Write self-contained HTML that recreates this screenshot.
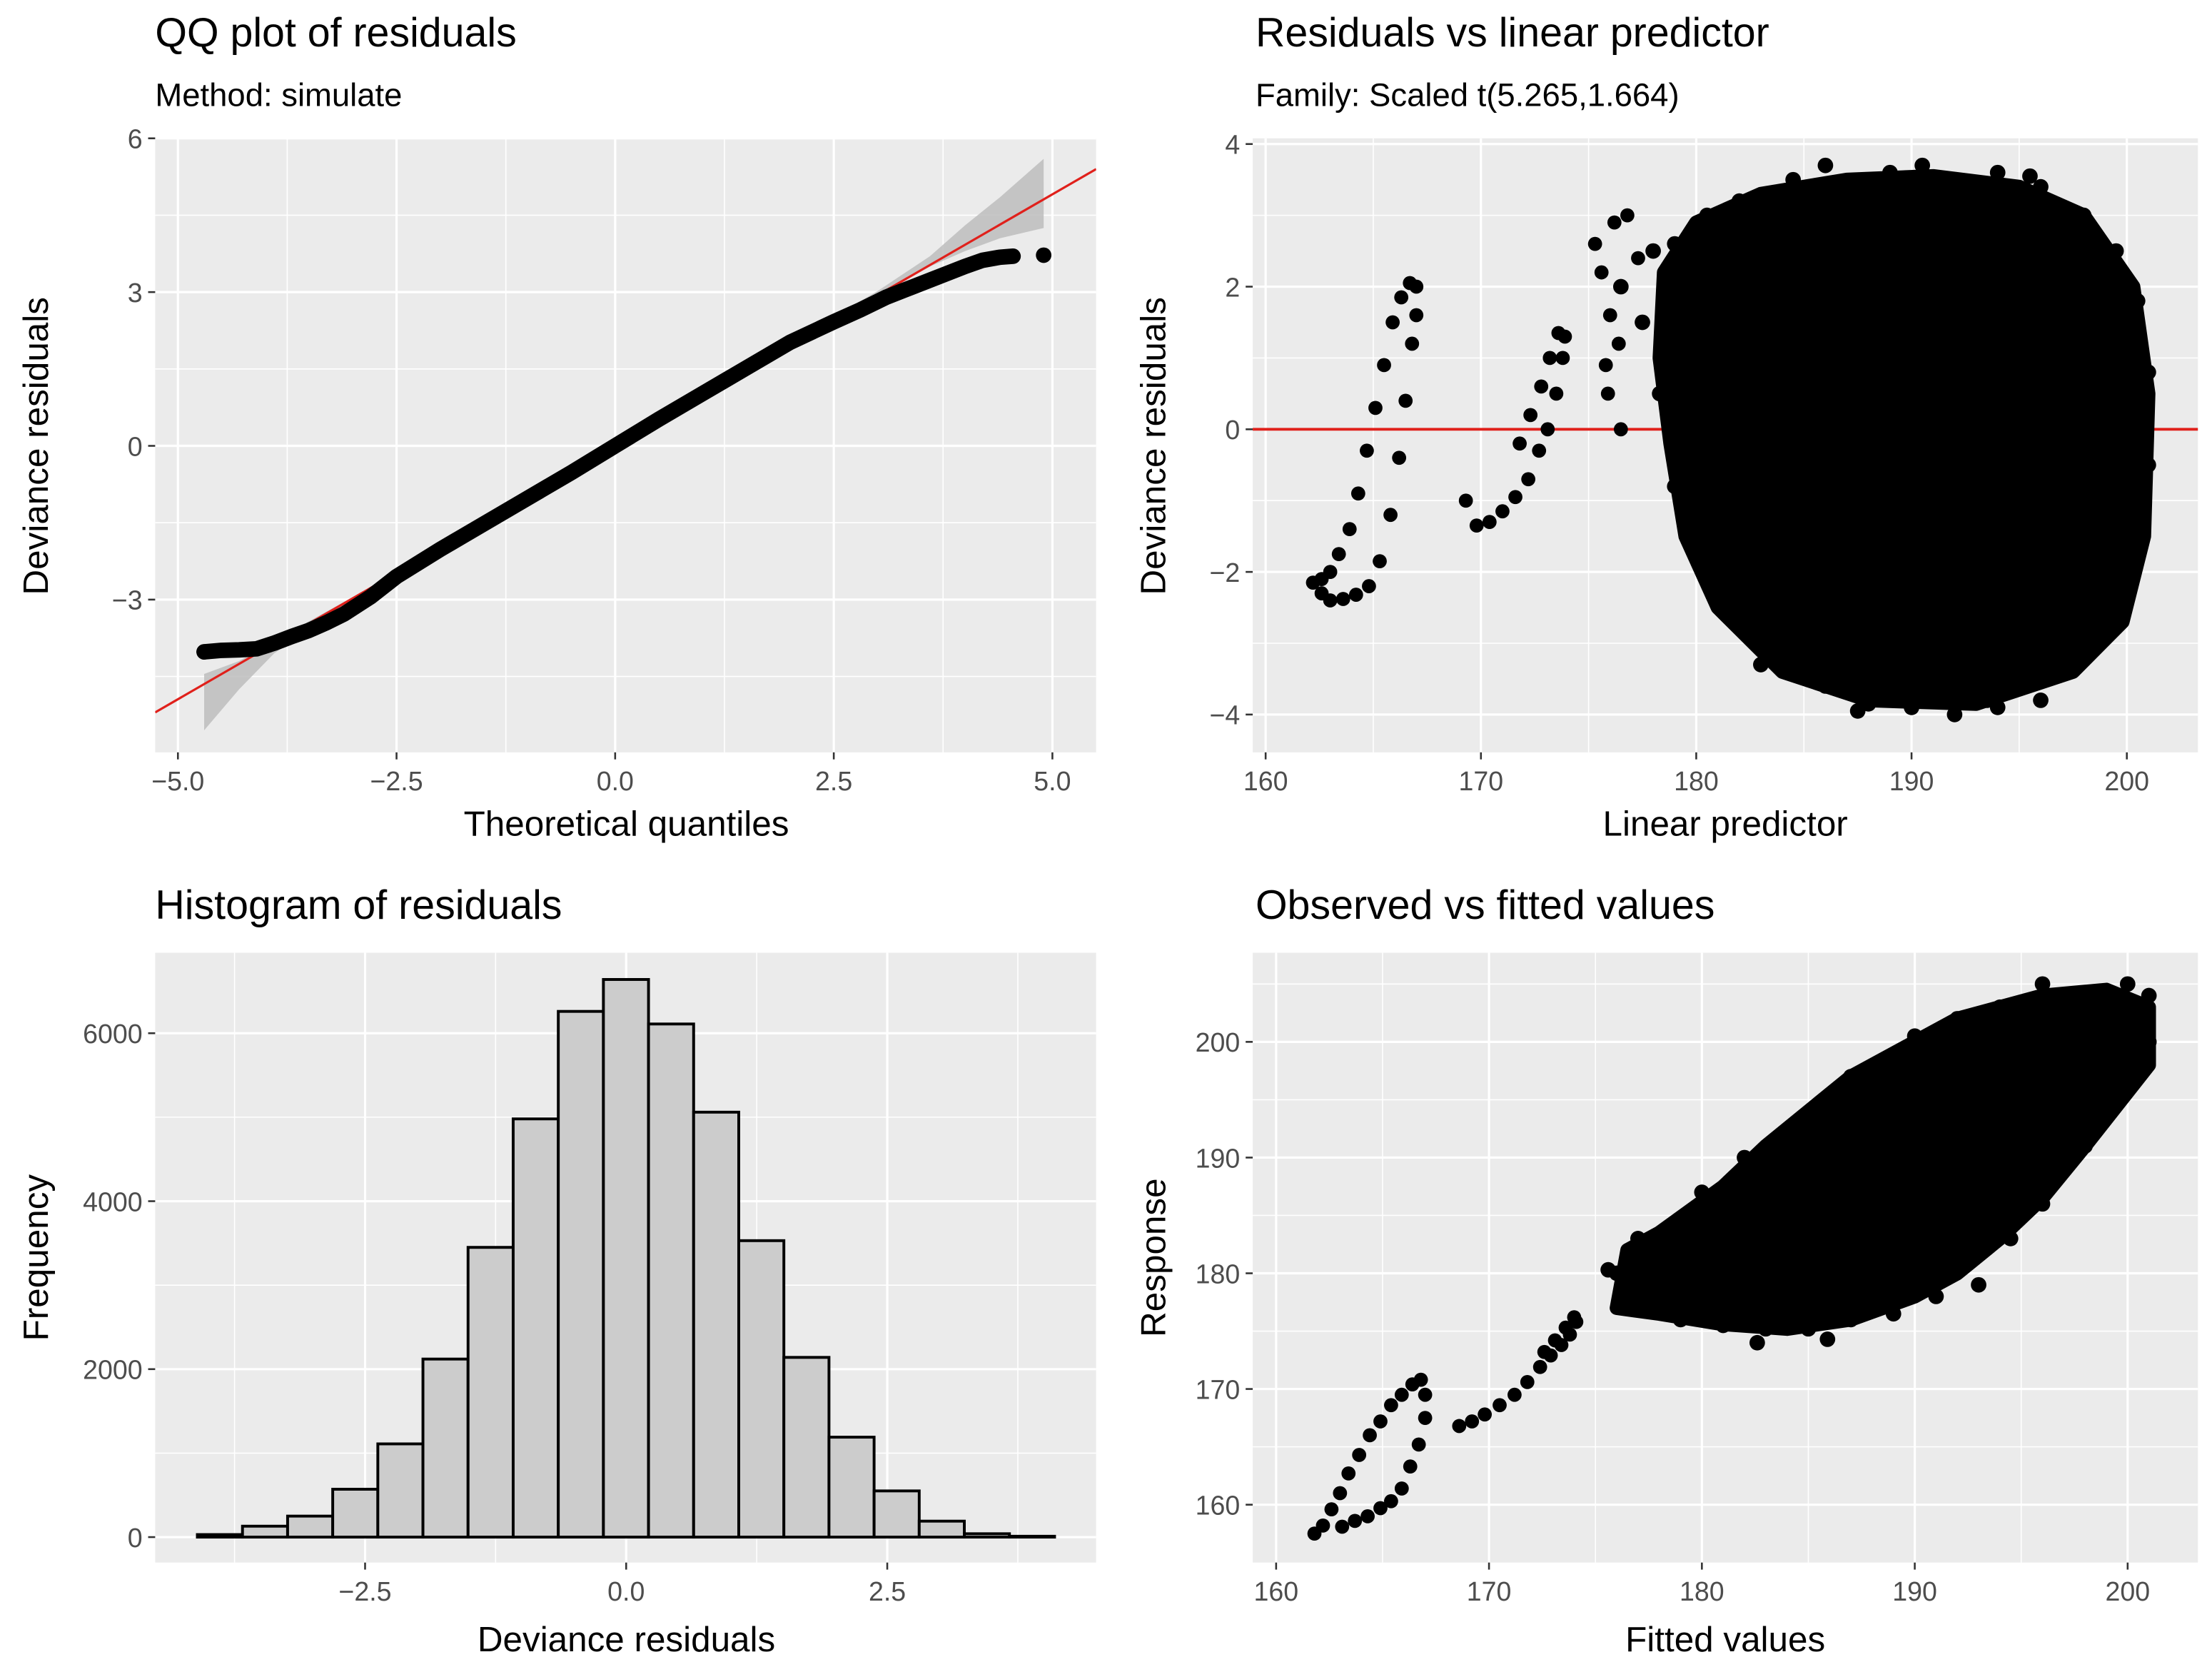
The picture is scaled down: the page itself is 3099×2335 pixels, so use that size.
<!DOCTYPE html>
<html><head><meta charset="utf-8"><style>
html,body{margin:0;padding:0;background:#fff;}
svg{display:block;}
text{font-family:"Liberation Sans",sans-serif;}
.tk{fill:#4d4d4d;font-size:19px;}
.ttl{fill:#000;font-size:29px;}
.sub{fill:#000;font-size:23px;}
.ax{fill:#000;font-size:25px;}
</style></head><body>
<svg id="fig" width="3099" height="2335" viewBox="0 0 1568 1181" preserveAspectRatio="none" xmlns="http://www.w3.org/2000/svg">
<g id="root"></g>
</svg>
<script>
// ---------- data ----------
const qqTheo = [-4.7,-4.5,-4.3,-4.1,-3.9,-3.7,-3.5,-3.3,-3.1,-2.8,-2.5,-2,-1.5,-1,-0.5,0,0.5,1,1.5,2,2.5,2.8,3.1,3.4,3.7,4.0,4.2,4.4,4.55];
const qqResid = [-4.02,-3.99,-3.98,-3.96,-3.85,-3.72,-3.6,-3.45,-3.28,-2.95,-2.55,-2.02,-1.52,-1.02,-0.52,0,0.52,1.02,1.52,2.02,2.42,2.65,2.9,3.1,3.3,3.5,3.62,3.68,3.7];
const qqOutTheo = [-4.7, 4.9];
const qqOutResid = [-4.02, 3.72];
const qqLineX = [-5.26, 5.5];
const qqLineY = [-5.2, 5.4];
const bandTheo = [-4.7,-4.3,-3.9,-3.0,0,3.0,3.6,4.0,4.4,4.9];
const bandLow  = [-5.55,-4.75,-4.05,-3.02,-0.02,2.95,3.5,3.8,4.05,4.25];
const bandHigh = [-4.45,-4.2,-3.8,-2.95,0.02,3.02,3.7,4.3,4.85,5.6];

const histCounts = [30,130,250,570,1110,2120,3450,4980,6260,6640,6110,5060,3530,2140,1190,550,190,40,10];
const histBinWidth = 0.432;
const histFirstCenter = -3.89;

const rvlBlobX = [178.5,180,183,187,191,195,198,200.3,201,200.8,199.8,197.5,193,188,184,181,179.5,178.8,178.3];
const rvlBlobY = [2.2,2.9,3.3,3.5,3.55,3.4,3.0,2.0,0.5,-1.5,-2.7,-3.4,-3.85,-3.8,-3.4,-2.5,-1.5,-0.2,1.0];
const rvlEdgeX = [179,180.5,182,184.5,186,189,190.5,192,194,196,198,199.5,200.5,201,201,200.5,199.5,198,196,194,192,190,188,186,184,182.5,181,180,179,178.3,177.5,176.5,178,183,187.5,193.5,195.5];
const rvlEdgeY = [2.6,3.0,3.2,3.5,3.7,3.6,3.7,3.5,3.6,3.4,3.0,2.5,1.8,0.8,-0.5,-1.8,-2.6,-3.2,-3.8,-3.9,-4.0,-3.9,-3.85,-3.6,-3.2,-2.6,-2.0,-1.5,-0.8,0.5,1.5,2.0,2.5,-3.3,-3.95,-3.8,3.55];
const rvlPtsX = [162.2,162.6,163.0,163.6,164.2,164.8,165.3,165.8,166.2,166.5,166.8,167.0,167.0,166.7,166.3,165.9,165.5,165.1,164.7,164.3,163.9,163.4,163.0,162.6,
  169.3,169.8,170.4,171.0,171.6,172.2,172.7,173.1,173.5,173.8,173.9,173.6,173.2,172.8,172.3,171.8,
  175.3,175.6,176.0,176.4,175.8,176.2,176.8,177.3,175.9,176.5];
const rvlPtsY = [-2.15,-2.3,-2.4,-2.38,-2.32,-2.2,-1.85,-1.2,-0.4,0.4,1.2,1.6,2.0,2.05,1.85,1.5,0.9,0.3,-0.3,-0.9,-1.4,-1.75,-2.0,-2.1,
  -1.0,-1.35,-1.3,-1.15,-0.95,-0.7,-0.3,0.0,0.5,1.0,1.3,1.35,1.0,0.6,0.2,-0.2,
  2.6,2.2,1.6,1.2,0.9,2.9,3.0,2.4,0.5,0.0];

const ovfBlobX = [176,176.5,178,181,183,185,187,190,192,196,199,201,201,199.5,198,196,194,192,190,187,184,181,178];
const ovfBlobY = [177,182,183.5,187.5,191,194,197,200,202,204,204.5,203,198,194.5,191,186.5,183,180,178,176,175.2,175.6,176.5];
const ovfEdgeX = [177,180,182,184,186.5,187,189,190,192,194,196,198.5,200,201,201,200,199,198,197,196,194.5,193,191,189,187,185,183,181,179,177,176,175.6,182.6,185.9];
const ovfEdgeY = [183,187,190,192,195,197,198,200.5,202,203,205,204,205,204,200,196,194,191,189,186,183,179,178,176.5,176,175.2,175.2,175.5,176,178,180,180.3,174.0,174.3];
const ovfPtsX = [161.8,162.2,162.6,163.0,163.4,163.9,164.4,164.9,165.4,165.9,166.4,166.8,167.0,167.0,166.7,166.3,165.9,165.4,164.9,164.3,163.7,163.1,
  168.6,169.2,169.8,170.5,171.2,171.8,172.4,172.9,173.4,173.8,174.1,174.0,173.6,173.1,172.6];
const ovfPtsY = [157.5,158.2,159.6,161.0,162.7,164.3,166.0,167.2,168.6,169.5,170.4,170.8,169.5,167.5,165.2,163.3,161.4,160.3,159.7,159.0,158.6,158.1,
  166.8,167.2,167.8,168.6,169.5,170.6,171.9,172.9,173.8,174.7,175.8,176.2,175.3,174.2,173.2];

// ---------- helpers ----------
const NS = 'http://www.w3.org/2000/svg';
const root = document.getElementById('root');
function mk(tag, attrs, parent){
  const e = document.createElementNS(NS, tag);
  for (const k in attrs) e.setAttribute(k, attrs[k]);
  (parent||root).appendChild(e);
  return e;
}
function lin(d0,d1,r0,r1){return v => r0 + (v-d0)/(d1-d0)*(r1-r0);}

function panel(name, px0, py0, px1, py1, xd, yd, xMaj, xMin, yMaj, yMin, xLab, yLab){
  const g = mk('g', {});
  
  
  const sx = lin(xd[0], xd[1], px0, px1), sy = lin(yd[0], yd[1], py1, py0);
  const bg = mk('rect', {x:px0, y:py0, width:px1-px0, height:py1-py0, fill:'#ebebeb'}, g);
  
  
  xMin.forEach(v => mk('line', {x1:sx(v), x2:sx(v), y1:py0, y2:py1, stroke:'#fff', 'stroke-width':0.8}, g));
  yMin.forEach(v => mk('line', {y1:sy(v), y2:sy(v), x1:px0, x2:px1, stroke:'#fff', 'stroke-width':0.8}, g));
  xMaj.forEach((v,i) => {
    mk('line', {x1:sx(v), x2:sx(v), y1:py0, y2:py1, stroke:'#fff', 'stroke-width':1.6}, g);
    mk('line', {x1:sx(v), x2:sx(v), y1:py1, y2:py1+5, stroke:'#333', 'stroke-width':1.3}, g);
    const t = mk('text', {x:sx(v), y:py1+27, 'text-anchor':'middle', class:'tk'}, g);
    t.textContent = xLab[i];
    
    
  });
  yMaj.forEach((v,i) => {
    mk('line', {y1:sy(v), y2:sy(v), x1:px0, x2:px1, stroke:'#fff', 'stroke-width':1.6}, g);
    mk('line', {y1:sy(v), y2:sy(v), x1:px0-5, x2:px0, stroke:'#333', 'stroke-width':1.3}, g);
    const t = mk('text', {x:px0-9, y:sy(v)+7, 'text-anchor':'end', class:'tk'}, g);
    t.textContent = yLab[i];
    
    
  });
  return {g, sx, sy};
}
function txt(s, x, y, cls, name, anchor, rot){
  const a = {x, y, class:cls};
  if (anchor) a['text-anchor'] = anchor;
  if (rot) a.transform = 'rotate(-90 ' + x + ' ' + y + ')';
  const t = mk('text', a);
  t.textContent = s;
  
  
}
function dots(p, xs, ys, r, name){
  xs.forEach((x,i) => {
    const c = mk('circle', {cx:p.sx(x), cy:p.sy(ys[i]), r:r, fill:'#000'}, p.g);
    
    
  });
}
function blob(p, xs, ys, name){
  const d = xs.map((x,i) => (i?'L':'M') + p.sx(x) + ' ' + p.sy(ys[i])).join(' ') + 'Z';
  const b = mk('path', {d, fill:'#000', stroke:'#000', 'stroke-width':10, 'stroke-linejoin':'round'}, p.g);
  
  
}

// ---------- QQ panel ----------
const qq = panel('qq-panel', 110, 98, 777, 533, [-5.26,5.5], [-5.98,6],
  [-5,-2.5,0,2.5,5], [-3.75,-1.25,1.25,3.75], [6,3,0,-3], [4.5,1.5,-1.5,-4.5],
  ['−5.0','−2.5','0.0','2.5','5.0'], ['6','3','0','−3']);
{
  const clip = mk('clipPath', {id:'qqclip'}, qq.g);
  mk('rect', {x:110, y:98, width:667, height:435}, clip);
  const cg = mk('g', {'clip-path':'url(#qqclip)'}, qq.g);
  let d = '';
  bandTheo.forEach((x,i) => { d += (i?'L':'M') + qq.sx(x) + ' ' + qq.sy(bandHigh[i]) + ' '; });
  for (let i=bandTheo.length-1;i>=0;i--) d += 'L' + qq.sx(bandTheo[i]) + ' ' + qq.sy(bandLow[i]) + ' ';
  const band = mk('path', {d: d + 'Z', fill:'#bdbdbd', opacity:0.85}, cg);
  
  
  const rl = mk('line', {x1:qq.sx(qqLineX[0]), y1:qq.sy(qqLineY[0]), x2:qq.sx(qqLineX[1]), y2:qq.sy(qqLineY[1]), stroke:'#e0201b', 'stroke-width':1.6}, cg);
  
  
  const pts = qqTheo.map((x,i) => qq.sx(x) + ',' + qq.sy(qqResid[i])).join(' ');
  const pl = mk('polyline', {points:pts, fill:'none', stroke:'#000', 'stroke-width':11, 'stroke-linecap':'round', 'stroke-linejoin':'round'}, cg);
  
  
  dots(qq, qqOutTheo, qqOutResid, 5.5, 'qq-outlier');
}
txt('QQ plot of residuals', 110, 33, 'ttl', 'qq-title');
txt('Method: simulate', 110, 75, 'sub', 'qq-subtitle');
txt('Theoretical quantiles', 444, 592, 'ax', 'qq-x-axis-title', 'middle');
txt('Deviance residuals', 34, 316, 'ax', 'qq-y-axis-title', 'middle', true);

// ---------- Residuals vs linear predictor ----------
const rv = panel('residuals-vs-predictor-panel', 888, 98, 1558, 533, [159.4,203.3], [-4.53,4.08],
  [160,170,180,190,200], [165,175,185,195], [4,2,0,-2,-4], [3,1,-1,-3],
  ['160','170','180','190','200'], ['4','2','0','−2','−4']);
{
  const z = mk('line', {x1:888, x2:1558, y1:rv.sy(0), y2:rv.sy(0), stroke:'#e0201b', 'stroke-width':2}, rv.g);
  
  
}
blob(rv, rvlBlobX, rvlBlobY, 'residual-cloud');
dots(rv, rvlEdgeX, rvlEdgeY, 5.5, 'residual-edge-point');
dots(rv, rvlPtsX, rvlPtsY, 5, 'residual-point');
txt('Residuals vs linear predictor', 890, 33, 'ttl', 'rvl-title');
txt('Family: Scaled t(5.265,1.664)', 890, 75, 'sub', 'rvl-subtitle');
txt('Linear predictor', 1223, 592, 'ax', 'rvl-x-axis-title', 'middle');
txt('Deviance residuals', 826, 316, 'ax', 'rvl-y-axis-title', 'middle', true);

// ---------- Histogram ----------
const hi = panel('histogram-panel', 110, 675, 777, 1107, [-4.51,4.5], [-303,6958],
  [-2.5,0,2.5], [-3.75,-1.25,1.25,3.75], [6000,4000,2000,0], [5000,3000,1000],
  ['−2.5','0.0','2.5'], ['6000','4000','2000','0']);
histCounts.forEach((c,i) => {
  const cx = histFirstCenter + i*histBinWidth;
  const x0 = hi.sx(cx - histBinWidth/2), x1 = hi.sx(cx + histBinWidth/2);
  const r = mk('rect', {x:x0, y:hi.sy(c), width:x1-x0, height:hi.sy(0)-hi.sy(c), fill:'#cccccc', stroke:'#000', 'stroke-width':2}, hi.g);
  
  
});
txt('Histogram of residuals', 110, 651, 'ttl', 'hist-title');
txt('Deviance residuals', 444, 1170, 'ax', 'hist-x-axis-title', 'middle');
txt('Frequency', 34, 891, 'ax', 'hist-y-axis-title', 'middle', true);

// ---------- Observed vs fitted ----------
const of = panel('observed-vs-fitted-panel', 888, 675, 1558, 1107, [158.9,203.3], [155,207.7],
  [160,170,180,190,200], [165,175,185,195], [200,190,180,170,160], [205,195,185,175,165],
  ['160','170','180','190','200'], ['200','190','180','170','160']);
blob(of, ovfBlobX, ovfBlobY, 'observed-cloud');
dots(of, ovfEdgeX, ovfEdgeY, 5.5, 'observed-edge-point');
dots(of, ovfPtsX, ovfPtsY, 5, 'observed-point');
txt('Observed vs fitted values', 890, 651, 'ttl', 'ovf-title');
txt('Fitted values', 1223, 1170, 'ax', 'ovf-x-axis-title', 'middle');
txt('Response', 826, 891, 'ax', 'ovf-y-axis-title', 'middle', true);
</script>
</body></html>
